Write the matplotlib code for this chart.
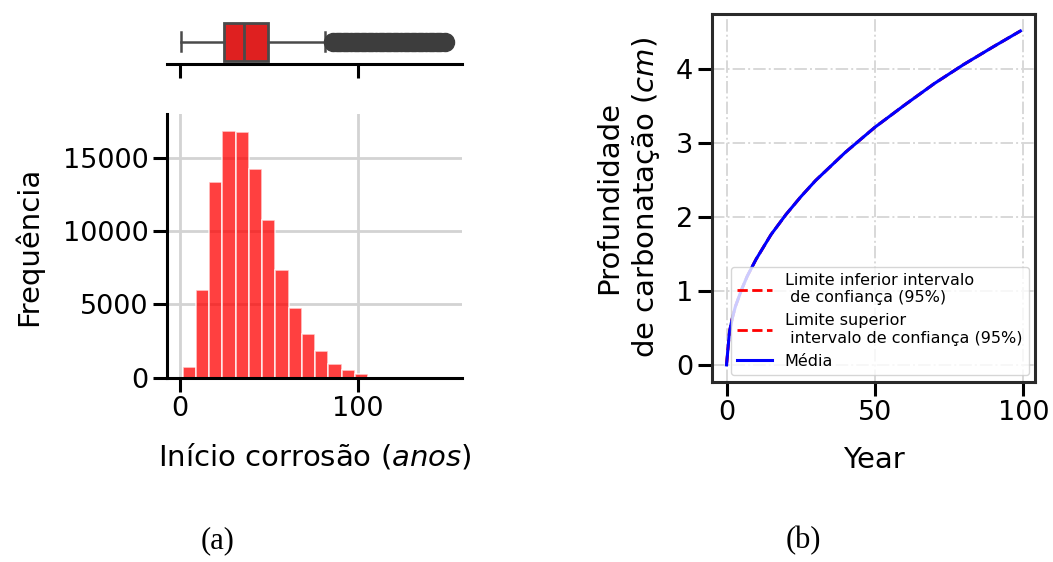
import numpy as np
import matplotlib
matplotlib.use("Agg")
import matplotlib.pyplot as plt

# histogram of corrosion start (years)
bin_left = 1.7
bin_width = 7.42
hist_counts = [730, 6020, 13360, 16860, 16770, 14250, 10750, 7340, 4730, 3000,
               1820, 955, 500, 227, 70, 30, 12, 5, 2, 1]

# boxplot summary (years)
box_whislo = 1.0
box_q1 = 25.0
box_med = 36.3
box_q3 = 49.6
box_whishi = 81.4
box_fliers = [86, 88, 90, 92, 94, 96, 98, 100, 102, 104, 106, 108, 110, 112, 114,
              116, 118, 120, 122, 124, 126, 128, 130, 132, 134, 136, 138, 140,
              142, 144, 146, 148.6]

# carbonation depth (cm) vs year
years = [0, 1, 2, 3, 5, 7, 10, 15, 20, 25, 30, 40, 50, 60, 70, 80, 90, 99]
depth_mean = [0, 0.45, 0.64, 0.79, 1.01, 1.20, 1.43, 1.76, 2.03, 2.27, 2.49,
              2.87, 3.21, 3.51, 3.80, 4.06, 4.30, 4.51]
depth_low = depth_mean
depth_high = depth_mean

plt.rcParams['font.family'] = 'DejaVu Sans'
plt.rcParams['mathtext.fontset'] = 'dejavusans'

fig = plt.figure(figsize=(10.53, 5.62), dpi=100)

# ---- (a) boxplot on top
axb = fig.add_axes([0.1586, 0.8856, 0.2799, 0.0799])
stats = [dict(whislo=box_whislo, q1=box_q1, med=box_med, q3=box_q3,
              whishi=box_whishi, fliers=box_fliers)]
lc = '#4a4a4a'
axb.bxp(stats, vert=False, widths=0.85, patch_artist=True, positions=[0],
        boxprops=dict(facecolor='#df2020', edgecolor=lc, linewidth=2),
        medianprops=dict(color=lc, linewidth=2),
        whiskerprops=dict(color=lc, linewidth=1.8),
        capprops=dict(color=lc, linewidth=1.8),
        flierprops=dict(marker='o', markersize=13, markerfacecolor='#3d3d3d',
                        markeredgecolor='#3d3d3d'))
axb.set_ylim(-0.5, 0.5)
axb.set_xlim(-7, 158)
axb.set_xticks([0, 100])
axb.set_xticklabels([])
axb.set_yticks([])
for s in ['top', 'right', 'left']:
    axb.spines[s].set_visible(False)
axb.spines['bottom'].set_linewidth(2.2)
axb.tick_params(axis='x', length=10, width=2.2, direction='out')

# ---- (a) histogram
axh = fig.add_axes([0.1586, 0.328, 0.2799, 0.469])
edges = bin_left + bin_width * np.arange(len(hist_counts))
axh.bar(edges, hist_counts, width=bin_width, align='edge', color='red',
        alpha=0.75, edgecolor='white', linewidth=1.2, zorder=2)
axh.set_xlim(-7, 158)
axh.set_ylim(0, 18000)
axh.set_xticks([0, 100])
axh.set_yticks([0, 5000, 10000, 15000])
axh.grid(True, color='#d3d3d3', linewidth=2, zorder=0)
axh.set_axisbelow(True)
for s in ['top', 'right']:
    axh.spines[s].set_visible(False)
for s in ['left', 'bottom']:
    axh.spines[s].set_linewidth(2.2)
axh.tick_params(length=10, width=2.2, labelsize=19.5)
axh.set_xlabel('Início corrosão ($anos$)', fontsize=21, labelpad=14)
axh.set_ylabel('Frequência', fontsize=21, labelpad=14)

# ---- (b) carbonation depth
axc = fig.add_axes([0.676, 0.321, 0.307, 0.6536])
axc.plot(years, depth_low, 'r--', linewidth=2,
         label='Limite inferior intervalo\n de confiança (95%)')
axc.plot(years, depth_high, 'r--', linewidth=2,
         label='Limite superior\n intervalo de confiança (95%)')
axc.plot(years, depth_mean, color='blue', linewidth=2.2, label='Média')
axc.set_xticks([0, 50, 100])
axc.set_yticks([0, 1, 2, 3, 4])
axc.grid(True, linestyle='-.', color='#d8d8d8', linewidth=1.4)
for s in axc.spines.values():
    s.set_linewidth(2.2)
    s.set_color('#2a2a2a')
axc.tick_params(length=10, width=2.2, labelsize=19.5)
axc.set_xlabel('Year', fontsize=21, labelpad=14)
axc.set_ylabel('Profundidade\nde carbonatação ($cm$)', fontsize=21,
               labelpad=10, linespacing=1.3)
axc.legend(loc='lower right', fontsize=11.5, framealpha=0.8,
           borderaxespad=0.4, handlelength=2.2)

# captions
fig.text(0.207, 0.025, '(a)', fontsize=22, family='Liberation Serif', ha='center')
fig.text(0.763, 0.025, '(b)', fontsize=22, family='Liberation Serif', ha='center')

fig.savefig('out.png', dpi=100)
